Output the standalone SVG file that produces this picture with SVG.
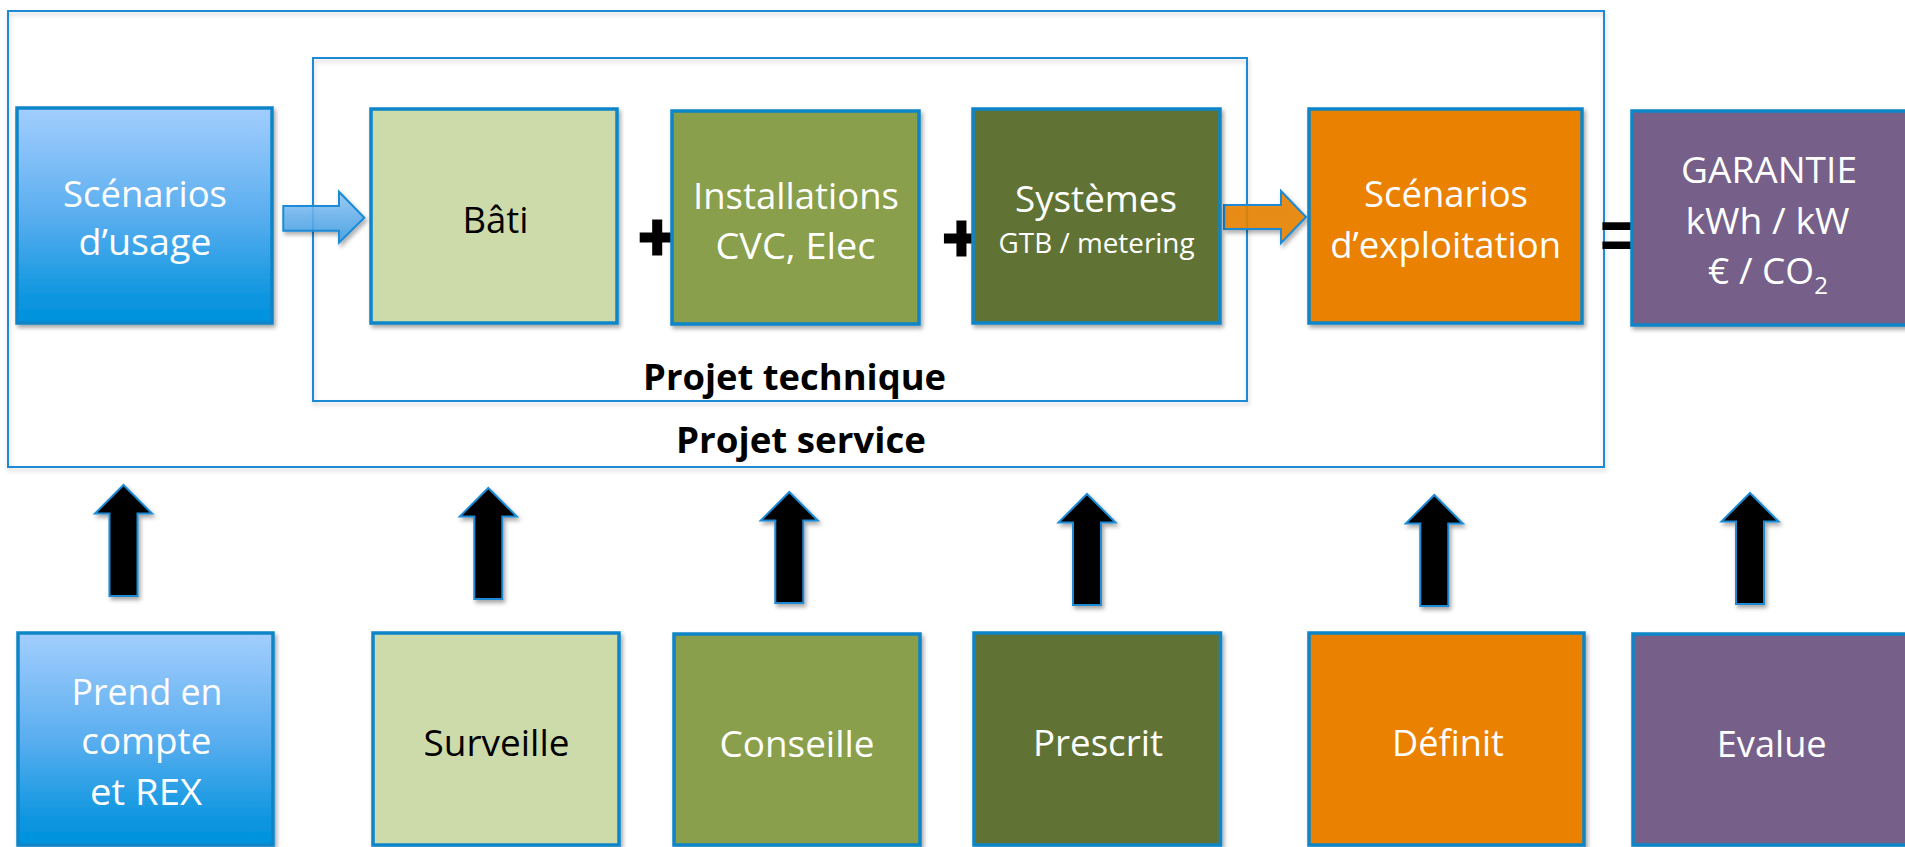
<svg xmlns="http://www.w3.org/2000/svg" xmlns:xlink="http://www.w3.org/1999/xlink" width="1905" height="847" viewBox="0 0 1905 847">
  <style>
    .frame { fill: none; stroke: #1A8AD4; stroke-width: 2; }
    .box { stroke: #0B85C8; stroke-width: 3.5; }
    .lbl { font-family: 'Open Sans', 'Noto Sans', sans-serif; font-size: 37px; text-anchor: middle; fill: #FFFFFF; }
    .dark { fill: #000000; }
    .small { font-size: 28px; }
    .flbl { font-family: 'Open Sans', 'Noto Sans', sans-serif; font-weight: bold; font-size: 35px; text-anchor: middle; fill: #000000; }
    .op { font-family: 'Liberation Sans', Arial, sans-serif; font-weight: bold; text-anchor: middle; fill: #000000; }
    .up { fill: #000000; stroke: #1A8AD4; stroke-width: 2; stroke-linejoin: miter; }
    .lgreen { fill: #CDDBAB; }
    .mgreen { fill: #8A9F4C; }
    .dgreen { fill: #617336; }
    .orange { fill: #EA8104; }
    .purple { fill: #76608A; }
    .blue { fill: url(#gBlue); }
  </style>
  <defs>
    <linearGradient id="gBlue" x1="0" y1="0" x2="0" y2="1">
      <stop offset="0" stop-color="#A3CEFE"/>
      <stop offset="0.5" stop-color="#5AAEEF"/>
      <stop offset="0.9" stop-color="#0A95DF"/>
      <stop offset="1" stop-color="#0092DD"/>
    </linearGradient>
    <linearGradient id="gArrow" x1="0" y1="0" x2="0" y2="1">
      <stop offset="0" stop-color="#92C8F8"/>
      <stop offset="1" stop-color="#3A9CE5"/>
    </linearGradient>
    <filter id="sh" x="-10%" y="-10%" width="125%" height="125%">
      <feDropShadow dx="2" dy="3" stdDeviation="2" flood-color="#000" flood-opacity="0.35"/>
    </filter>
    <filter id="shl" x="-5%" y="-5%" width="110%" height="110%">
      <feDropShadow dx="1" dy="3" stdDeviation="2" flood-color="#000" flood-opacity="0.18"/>
    </filter>
    <path id="up" d="M0,0 L28.5,28.5 L14,28.5 L14,111 L-14,111 L-14,28.5 L-28.5,28.5 Z"/>
  </defs>

  <rect width="1905" height="847" fill="#FFFFFF"/>

  <g id="frame-service">
    <rect class="frame" x="8" y="11" width="1596" height="456" filter="url(#shl)"/>
    <text class="flbl" x="801" y="453" textLength="250" lengthAdjust="spacingAndGlyphs">Projet service</text>
  </g>
  <g id="frame-technique">
    <rect class="frame" x="313" y="58" width="934" height="343" filter="url(#shl)"/>
    <text class="flbl" x="794.6" y="390" textLength="303" lengthAdjust="spacingAndGlyphs">Projet technique</text>
  </g>

  <g id="operators">
    <text class="op" x="657.2" y="259" font-size="64" stroke="#000" stroke-width="3">+</text>
    <text class="op" x="961.4" y="260" font-size="64" stroke="#000" stroke-width="3">+</text>
    <text class="op" x="1620" y="259" font-size="70">=</text>
  </g>

  <g id="connectors">
    <path d="M283.3,206 L339,206 L339,191.7 L364.3,217.7 L339,242.7 L339,230.7 L283.3,230.7 Z" fill="url(#gArrow)" fill-opacity="0.85" stroke="#1A8AD4" stroke-width="2" filter="url(#sh)"/>
    <path d="M1224,205 L1281,205 L1281,191 L1306,217 L1281,243 L1281,229 L1224,229 Z" fill="#E98300" fill-opacity="0.88" stroke="#1A8AD4" stroke-width="2" filter="url(#sh)"/>
    <use href="#up" class="up" x="123.5" y="485" filter="url(#sh)"/>
    <use href="#up" class="up" x="488.3" y="488" filter="url(#sh)"/>
    <use href="#up" class="up" x="789.3" y="492" filter="url(#sh)"/>
    <use href="#up" class="up" x="1087" y="494" filter="url(#sh)"/>
    <use href="#up" class="up" x="1434.3" y="495" filter="url(#sh)"/>
    <use href="#up" class="up" x="1750" y="493" filter="url(#sh)"/>
  </g>

  <g id="node-scenarios-usage">
    <rect class="box blue" x="17" y="108" width="255" height="215" filter="url(#sh)"/>
    <text class="lbl" x="145" y="207" textLength="164" lengthAdjust="spacingAndGlyphs">Scénarios</text>
    <text class="lbl" x="145" y="255" textLength="133" lengthAdjust="spacingAndGlyphs">d’usage</text>
  </g>
  <g id="node-bati">
    <rect class="box lgreen" x="371" y="109" width="246" height="214" filter="url(#sh)"/>
    <text class="lbl dark" x="495.5" y="233" textLength="66" lengthAdjust="spacingAndGlyphs">Bâti</text>
  </g>
  <g id="node-installations">
    <rect class="box mgreen" x="672" y="111" width="247" height="213" filter="url(#sh)"/>
    <text class="lbl" x="796" y="209" textLength="206" lengthAdjust="spacingAndGlyphs">Installations</text>
    <text class="lbl" x="795.5" y="259" textLength="160" lengthAdjust="spacingAndGlyphs">CVC, Elec</text>
  </g>
  <g id="node-systemes">
    <rect class="box dgreen" x="973" y="109" width="247" height="214" filter="url(#sh)"/>
    <text class="lbl" x="1096" y="212" textLength="162" lengthAdjust="spacingAndGlyphs">Systèmes</text>
    <text class="lbl small" x="1096.6" y="253" textLength="196" lengthAdjust="spacingAndGlyphs">GTB / metering</text>
  </g>
  <g id="node-scenarios-exploitation">
    <rect class="box orange" x="1309" y="109" width="273" height="214" filter="url(#sh)"/>
    <text class="lbl" x="1446" y="207" textLength="164" lengthAdjust="spacingAndGlyphs">Scénarios</text>
    <text class="lbl" x="1445.7" y="258" textLength="231" lengthAdjust="spacingAndGlyphs">d’exploitation</text>
  </g>
  <g id="node-garantie">
    <rect class="box purple" x="1632" y="111" width="280" height="214" filter="url(#sh)"/>
    <text class="lbl" x="1769" y="183" textLength="176" lengthAdjust="spacingAndGlyphs">GARANTIE</text>
    <text class="lbl" x="1767.5" y="234" textLength="164" lengthAdjust="spacingAndGlyphs">kWh / kW</text>
    <text class="lbl" x="1768" y="284">€ / CO<tspan font-size="24" dy="10">2</tspan></text>
  </g>

  <g id="node-prend">
    <rect class="box blue" x="18" y="633" width="255" height="212" filter="url(#sh)"/>
    <text class="lbl" x="147" y="705" textLength="151" lengthAdjust="spacingAndGlyphs">Prend en</text>
    <text class="lbl" x="146.3" y="754" textLength="130" lengthAdjust="spacingAndGlyphs">compte</text>
    <text class="lbl" x="146" y="805" textLength="112" lengthAdjust="spacingAndGlyphs">et REX</text>
  </g>
  <g id="node-surveille">
    <rect class="box lgreen" x="373" y="633" width="246" height="212" filter="url(#sh)"/>
    <text class="lbl dark" x="496.5" y="756" textLength="146" lengthAdjust="spacingAndGlyphs">Surveille</text>
  </g>
  <g id="node-conseille">
    <rect class="box mgreen" x="674" y="634" width="246" height="211" filter="url(#sh)"/>
    <text class="lbl" x="797" y="757" textLength="155" lengthAdjust="spacingAndGlyphs">Conseille</text>
  </g>
  <g id="node-prescrit">
    <rect class="box dgreen" x="974" y="633" width="246.5" height="212" filter="url(#sh)"/>
    <text class="lbl" x="1098" y="756" textLength="130" lengthAdjust="spacingAndGlyphs">Prescrit</text>
  </g>
  <g id="node-definit">
    <rect class="box orange" x="1309" y="633" width="275" height="212" filter="url(#sh)"/>
    <text class="lbl" x="1448" y="756" textLength="112" lengthAdjust="spacingAndGlyphs">Définit</text>
  </g>
  <g id="node-evalue">
    <rect class="box purple" x="1633" y="634" width="280" height="211" filter="url(#sh)"/>
    <text class="lbl" x="1771.7" y="757" textLength="110" lengthAdjust="spacingAndGlyphs">Evalue</text>
  </g>
</svg>
